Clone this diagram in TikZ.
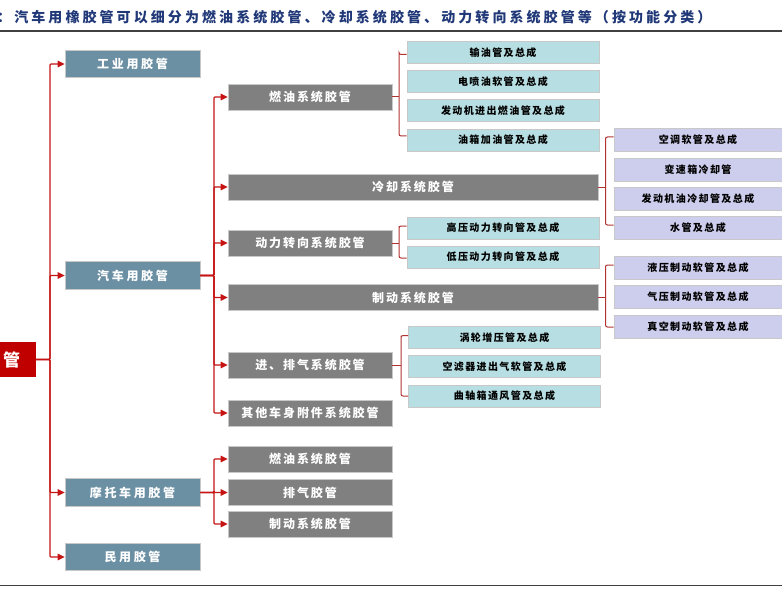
\documentclass[tikz,border=0pt]{standalone}
\usepackage{fontspec}
\setmainfont{Noto Sans CJK SC}
\usetikzlibrary{arrows.meta}
\definecolor{lvone}{RGB}{107,143,163}
\definecolor{lvtwo}{RGB}{128,128,128}
\definecolor{teal3}{RGB}{183,222,226}
\definecolor{lav3}{RGB}{205,205,237}
\definecolor{rootred}{RGB}{192,0,0}
\definecolor{arrred}{RGB}{196,20,20}
\definecolor{brred}{RGB}{178,50,50}
\definecolor{titleblue}{RGB}{32,56,120}
\definecolor{boxedge}{RGB}{200,200,200}
\tikzset{
  base/.style={rectangle, inner sep=0pt, draw=boxedge, line width=0.6pt},
  onebox/.style={base, fill=lvone, text=white, minimum width=135pt, minimum height=27.5pt,
    font=\fontsize{12}{14}\selectfont\bfseries\addfontfeature{LetterSpace=22}},
  twobox/.style={base, fill=lvtwo, text=white, minimum width=164pt, minimum height=26pt,
    font=\fontsize{12}{14}\selectfont\bfseries\addfontfeature{LetterSpace=16}},
  twolong/.style={twobox, minimum width=370pt},
  tealbox/.style={base, fill=teal3, text=black, minimum width=192pt, minimum height=22pt,
    font=\fontsize{10}{12}\selectfont\bfseries\addfontfeature{LetterSpace=14}},
  lavbox/.style={base, fill=lav3, text=black, minimum width=168pt, minimum height=22.5pt,
    font=\fontsize{10}{12}\selectfont\bfseries\addfontfeature{LetterSpace=14}},
  rootbox/.style={rectangle, inner sep=0pt, fill=rootred, text=white, minimum width=36pt, minimum height=35pt,
    font=\fontsize{17}{19}\selectfont\bfseries},
  arr/.style={draw=arrred, line width=1.3pt, -{Triangle[length=7pt,width=6.5pt]}},
  bracket/.style={draw=brred, line width=1pt, rounded corners=2pt},
  rule/.style={draw=black!75, line width=1.2pt}
}
\begin{document}
\begin{tikzpicture}[x=1pt,y=-1pt]
\useasboundingbox (0,0) rectangle (782,591);
% title and rules
\node[anchor=west, inner sep=0pt, text=titleblue,
  font=\fontsize{14}{16}\selectfont\bfseries\addfontfeature{LetterSpace=22}] (title) at (-3,17.5)
  {：汽车用橡胶管可以细分为燃油系统胶管、冷却系统胶管、动力转向系统胶管等（按功能分类）};
\coordinate (rl) at (0,31);
\coordinate (rr) at (782,31);
\draw[rule] (rl) -- (rr);
\coordinate (bl) at (0,585);
\coordinate (br) at (782,585);
\draw[rule, line width=1pt] (bl) -- (br);

% root
\node[rootbox] (root) at (18,359.5) {\hspace*{-13pt}管};

% level 1
\node[onebox] (ind) at (132.5,64) {工业用胶管};
\node[onebox] (car) at (132.5,275.5) {汽车用胶管};
\node[onebox] (moto) at (132.5,492.5) {摩托车用胶管};
\node[onebox] (civ) at (132.5,557) {民用胶管};

% level 2 (car)
\node[twobox] (fuel) at (310,97) {燃油系统胶管};
\node[twolong] (cool) at (413,187) {冷却系统胶管};
\node[twobox] (steer) at (310,243) {动力转向系统胶管};
\node[twolong] (brake) at (413,297.5) {制动系统胶管};
\node[twobox] (intake) at (310,365) {进、排气系统胶管};
\node[twobox] (other) at (310,413) {其他车身附件系统胶管};

% level 2 (moto)
\node[twobox] (mfuel) at (310,459) {燃油系统胶管};
\node[twobox] (mexh) at (310,492.5) {排气胶管};
\node[twobox] (mbrake) at (310,524) {制动系统胶管};

% level 3 fuel
\node[tealbox] (f1) at (503,52.5) {输油管及总成};
\node[tealbox] (f2) at (503,81.5) {电喷油软管及总成};
\node[tealbox] (f3) at (503,110.5) {发动机进出燃油管及总成};
\node[tealbox] (f4) at (503,140) {油箱加油管及总成};
% steering
\node[tealbox] (s1) at (503,228) {高压动力转向管及总成};
\node[tealbox] (s2) at (503,257) {低压动力转向管及总成};
% intake
\node[tealbox] (i1) at (504.5,337.5) {涡轮增压管及总成};
\node[tealbox] (i2) at (504.5,366.5) {空滤器进出气软管及总成};
\node[tealbox] (i3) at (504.5,396) {曲轴箱通风管及总成};
% cooling
\node[lavbox] (c1) at (698,140) {空调软管及总成};
\node[lavbox] (c2) at (698,170) {变速箱冷却管};
\node[lavbox] (c3) at (698,199) {发动机油冷却管及总成};
\node[lavbox] (c4) at (698,228) {水管及总成};
% brake
\node[lavbox] (b1) at (698,268) {液压制动软管及总成};
\node[lavbox] (b2) at (698,297) {气压制动软管及总成};
\node[lavbox] (b3) at (698,327) {真空制动软管及总成};

% trunk coordinates
\coordinate (t1) at (50,0);
\coordinate (t2) at (214,0);
\coordinate (bx1) at (399,0);
\coordinate (bx2) at (401,0);
\coordinate (bx3) at (605.5,0);

% root connectors
\foreach \c in {ind,car,moto,civ}
  \draw[arr, rounded corners=1pt] (root.east) -- (t1|-root.east) |- (\c.west);
% car connectors
\foreach \c in {fuel,cool,steer,brake,intake,other}
  \draw[arr, rounded corners=1pt] (car.east) -- (t2|-car.east) |- (\c.west);
% moto connectors
\foreach \c in {mfuel,mexh,mbrake}
  \draw[arr, rounded corners=1pt] (moto.east) -- (t2|-moto.east) |- (\c.west);

% brackets
\draw[bracket] ([yshift=-2pt]f1.west) -| (bx1|-f1.west) |- ([yshift=4pt]f4.west);
\draw[bracket] (fuel.east) -- (bx1|-fuel.east);
\draw[bracket] ([yshift=2pt]s1.west) -| (bx1|-s1.west) |- ([yshift=-1pt]s2.west);
\draw[bracket] (steer.east) -- (bx1|-steer.east);
\draw[bracket] ([yshift=2pt]i1.west) -| (bx2|-i1.west) |- (i3.west);
\draw[bracket] (intake.east) -- (bx2|-intake.east);
\draw[bracket] ([yshift=3pt]c1.west) -| (bx3|-c1.west) |- ([yshift=3pt]c4.west);
\draw[bracket] (cool.east) -- (bx3|-cool.east);
\draw[bracket] ([yshift=3pt]b1.west) -| (bx3|-b1.west) |- (b3.west);
\draw[bracket] (brake.east) -- (bx3|-brake.east);
\end{tikzpicture}
\end{document}
